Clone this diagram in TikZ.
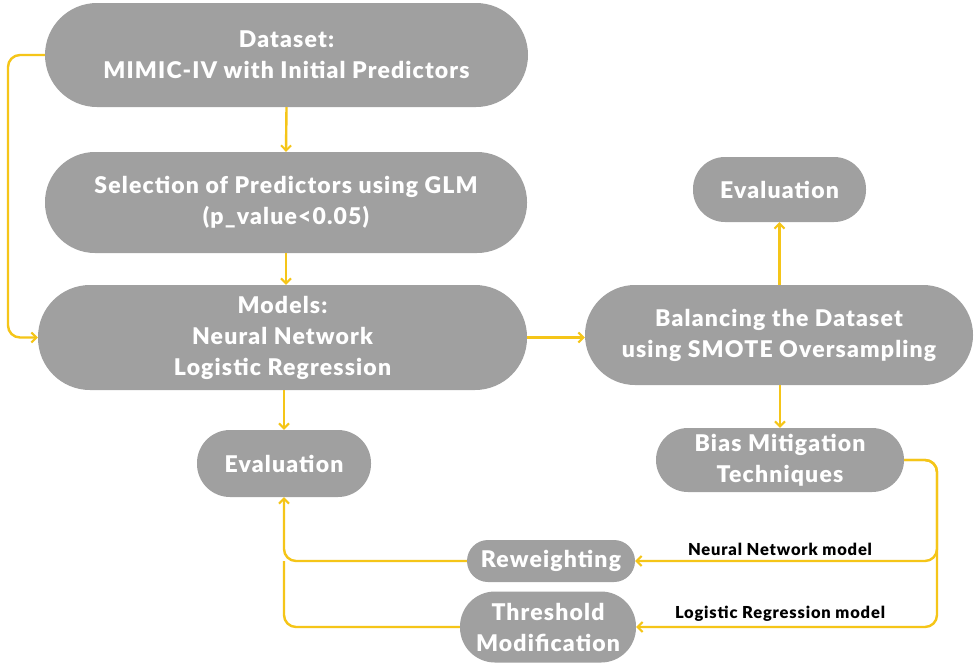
\documentclass[tikz,border=0pt]{standalone}
\usepackage{fontspec}
\setmainfont{Lato}[BoldFont={Lato Black}, BoldFeatures={LetterSpace=5}]
\usetikzlibrary{arrows.meta}
\definecolor{boxgray}{HTML}{A0A0A0}
\definecolor{gold}{HTML}{F5C518}
\begin{document}
\begin{tikzpicture}[x=1pt,y=-1pt,
  box/.style={fill=boxgray, text=white, font=\fontsize{23}{31}\selectfont\bfseries, align=center, inner sep=0pt},
  conn/.style={draw=gold, line width=2.4pt, rounded corners=12pt},
  tip/.style={-{Straight Barb[length=5pt,width=10pt,line width=2pt]}},
  lab/.style={font=\fontsize{16.5}{18}\selectfont\bfseries, text=black, inner sep=1pt}]
\useasboundingbox (0,0) rectangle (974,665);
\fill[white] (0,0) rectangle (974,665);

\node[box, minimum width=483pt, minimum height=104pt, rounded corners=52pt] (ds) at (286.5,55) {Dataset:\\MIMIC-IV with Initial Predictors};
\node[box, minimum width=482pt, minimum height=101pt, rounded corners=50pt] (sel) at (286,202.5) {Selection of Predictors using GLM\\(p\_value<0.05)};
\node[box, minimum width=489pt, minimum height=105pt, rounded corners=52pt] (mod) at (282.5,337.5) {Models:\\Neural Network\\Logistic Regression};
\node[box, minimum width=174pt, minimum height=67pt, rounded corners=33pt] (ev1) at (284,463.5) {Evaluation};
\node[box, minimum width=388pt, minimum height=100pt, rounded corners=50pt] (bal) at (779,335) {Balancing the Dataset\\using SMOTE Oversampling};
\node[box, minimum width=173pt, minimum height=65pt, rounded corners=32pt] (ev2) at (779.5,189.5) {Evaluation};
\node[box, minimum width=248pt, minimum height=64pt, rounded corners=32pt] (bias) at (780,460) {Bias Mitigation\\Techniques};
\node[box, minimum width=168pt, minimum height=42pt, rounded corners=21pt] (rw) at (551,561) {Reweighting};
\node[box, minimum width=176pt, minimum height=71pt, rounded corners=35pt] (th) at (548,627) {Threshold\\Modification};

\coordinate (lx) at (8,0);
\coordinate (rx) at (937,0);

\draw[conn, tip] (ds.west) -- (ds.west -| lx) -- (mod.west -| lx) -- (mod.west);
\draw[conn, tip] (ds.south) -- (sel.north);
\draw[conn, tip] (sel.south) -- (mod.north -| sel.south);
\draw[conn, tip] (mod.east) -- (mod.east -| bal.west);
\draw[conn, tip] (mod.south -| ev1.north) -- (ev1.north);
\draw[conn, tip] (bal.north -| ev2.south) -- (ev2.south);
\draw[conn, tip] (bal.south -| bias.north) -- (bias.north);
\draw[conn, tip] (bias.east) -- (bias.east -| rx) -- (rw.east -| rx) -- (rw.east);
\draw[conn, tip] (bias.east) -- (bias.east -| rx) -- (th.east -| rx) -- (th.east);
\draw[conn, tip] (rw.west) -- (rw.west -| ev1.south) -- (ev1.south);
\draw[conn] (th.west) -- (th.west -| ev1.south) -- (rw.west -| ev1.south);

\node[lab] (nnm) at (780,549) {Neural Network model};
\node[lab] (lrm) at (780,614) {Logistic Regression model};
\end{tikzpicture}
\end{document}
